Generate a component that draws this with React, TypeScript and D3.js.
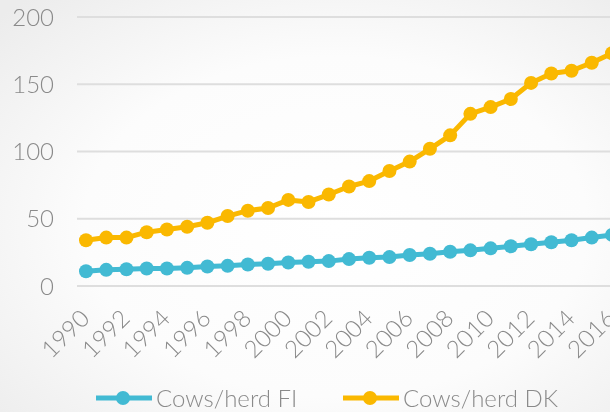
import React from "react";
import * as d3 from "d3";

const years = [1990, 1991, 1992, 1993, 1994, 1995, 1996, 1997, 1998, 1999, 2000, 2001, 2002, 2003, 2004, 2005, 2006, 2007, 2008, 2009, 2010, 2011, 2012, 2013, 2014, 2015, 2016];
const cowsFI = [11, 12, 12.5, 13, 13, 13.5, 14.5, 15, 16, 16.5, 17.5, 18, 18.5, 20, 21, 21.5, 23, 24, 25.5, 26.5, 28, 29.5, 31, 32.5, 34, 36, 38];
const cowsDK = [34, 36, 36, 40, 42, 44, 47, 52, 56, 58, 64, 62.5, 68, 74, 78, 85.5, 92.5, 102, 112, 128, 133, 139, 151, 158, 160, 166, 173];
const yTicks = [0, 50, 100, 150, 200];
const xTickLabels = [1990, 1992, 1994, 1996, 1998, 2000, 2002, 2004, 2006, 2008, 2010, 2012, 2014, 2016];
const seriesNames = ["Cows/herd FI", "Cows/herd DK"];
const seriesColors = ["#42BAD3", "#FAB800"];

const W = 610;
const H = 412;
const FONT = "Lato, 'Open Sans', sans-serif";
const TEXT = "#8a8a8a";

export default function App() {
  const x = d3.scaleLinear().domain([1990, 2016]).range([86, 612]);
  const y = d3.scaleLinear().domain([0, 200]).range([286, 17]);
  const line = d3
    .line<[number, number]>()
    .x((d) => x(d[0]))
    .y((d) => y(d[1]));
  const series = [cowsFI, cowsDK];

  return (
    <svg
      width={W}
      height={H}
      style={{ position: "fixed", left: 0, top: 0 }}
      fontFamily={FONT}
      fontWeight={300}
    >
      <defs>
        <radialGradient id="bg" cx="55%" cy="55%" r="75%">
          <stop offset="0%" stopColor="#ffffff" />
          <stop offset="55%" stopColor="#fcfcfc" />
          <stop offset="100%" stopColor="#ececec" />
        </radialGradient>
      </defs>
      <rect x={0} y={0} width={W} height={H} fill="url(#bg)" />
      {yTicks.map((t) => (
        <g key={t}>
          <line x1={77} x2={W} y1={y(t)} y2={y(t)} stroke="#dedede" strokeWidth={2} />
          <text x={54} y={y(t)} dy="0.36em" textAnchor="end" fontSize={24} fill={TEXT}>
            {t}
          </text>
        </g>
      ))}
      {xTickLabels.map((t) => (
        <text
          key={t}
          transform={`translate(${x(t) + 5},${320}) rotate(-45)`}
          textAnchor="end"
          fontSize={24}
          fill={TEXT}
        >
          {t}
        </text>
      ))}
      {series.map((vals, i) => {
        const pts = years.map((yr, j) => [yr, vals[j]] as [number, number]);
        return (
          <g key={i}>
            <path d={line(pts) || ""} fill="none" stroke={seriesColors[i]} strokeWidth={5} strokeLinejoin="round" />
            {pts.map((p, j) => (
              <circle key={j} cx={x(p[0])} cy={y(p[1])} r={7} fill={seriesColors[i]} />
            ))}
          </g>
        );
      })}
      {seriesNames.map((name, i) => {
        const lx = [96, 343][i];
        return (
          <g key={name}>
            <line x1={lx} x2={lx + 56} y1={398} y2={398} stroke={seriesColors[i]} strokeWidth={5} />
            <circle cx={lx + 27} cy={398} r={7} fill={seriesColors[i]} />
            <text x={lx + 60} y={407} fontSize={24} fill={TEXT}>
              {name}
            </text>
          </g>
        );
      })}
    </svg>
  );
}
